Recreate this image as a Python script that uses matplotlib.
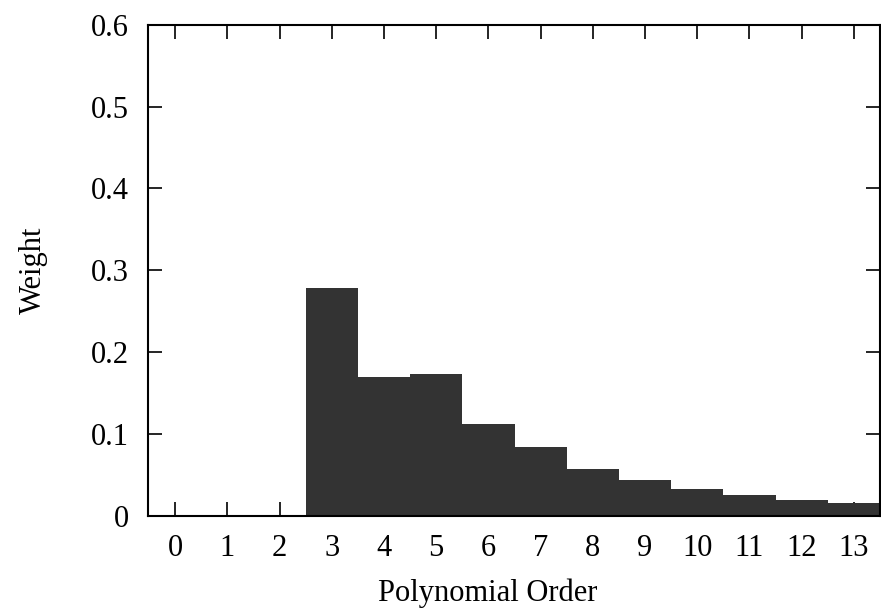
import matplotlib
matplotlib.use("Agg")
import matplotlib.pyplot as plt

orders = list(range(14))
weights = [0.0, 0.0, 0.0, 0.278, 0.170, 0.173, 0.112, 0.084, 0.057, 0.044, 0.033, 0.0256, 0.0195, 0.0155]
yticks = [0, 0.1, 0.2, 0.3, 0.4, 0.5, 0.6]
ytick_labels = ["0", "0.1", "0.2", "0.3", "0.4", "0.5", "0.6"]

plt.rcParams['font.family'] = ['Liberation Serif', 'DejaVu Serif']
plt.rcParams['font.size'] = 22

fig = plt.figure(figsize=(8.81, 6.08), dpi=100)
ax = fig.add_axes([148/881, 1 - 516/608, (880-148)/881, (516-24.7)/608])

ax.bar(orders, weights, width=1.0, color='#333333', zorder=3)
ax.set_xlim(-0.52, 13.5)
ax.set_ylim(0, 0.6)
ax.set_xticks(orders)
ax.set_xticklabels([str(o) for o in orders])
ax.set_yticks(yticks)
ax.set_yticklabels(ytick_labels)
ax.tick_params(direction='in', length=9.8, width=1.2, top=True, right=True, labelsize=22)
ax.tick_params(axis='y', pad=13.5)
ax.tick_params(axis='x', pad=13.2)
for s in ax.spines.values():
    s.set_linewidth(1.5)
    s.set_zorder(4)
ax.set_xlabel("Polynomial Order")
ax.set_ylabel("Weight")
ax.xaxis.set_label_coords(0.464, -0.128)
ax.yaxis.set_label_coords(-0.1366, 0.5)

fig.savefig("out.png", dpi=100)
